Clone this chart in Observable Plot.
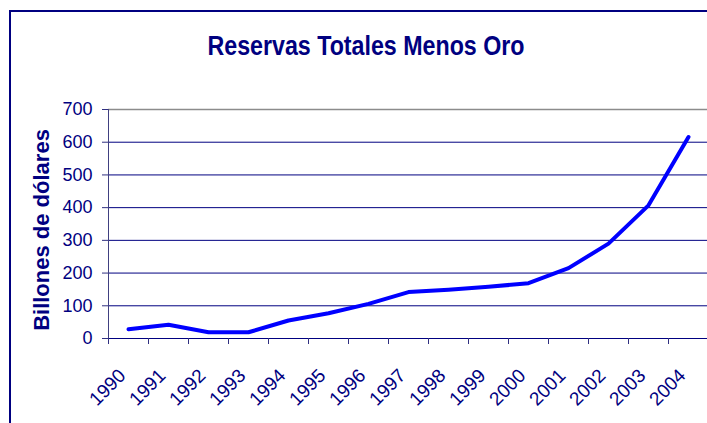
<!DOCTYPE html>
<html>
<head>
<meta charset="utf-8">
<script src="https://cdn.jsdelivr.net/npm/d3@7"></script>
<script src="https://cdn.jsdelivr.net/npm/@observablehq/plot@0.6"></script>
<style>
  html, body { margin: 0; padding: 0; width: 707px; height: 423px; overflow: hidden; background: #fff; }
  #frame { position: absolute; left: 9px; top: 10px; width: 800px; height: 500px; border: 2px solid #000080; box-sizing: border-box; }
  #title { position: absolute; left: 0; top: 33px; width: 732px; text-align: center; line-height: 27px;
           font-family: "Liberation Sans", Arial, sans-serif; font-weight: bold; font-size: 27px; color: #000080;
           transform: scaleX(0.86); transform-origin: 366px 0; white-space: nowrap; }
  #chart { position: absolute; left: 0; top: 0; }
  #chart svg { max-width: none !important; height: 423px !important; }
</style>
</head>
<body>
<div id="frame"></div>
<div id="title">Reservas Totales Menos Oro</div>
<div id="chart"></div>
<script>
const years = [1990, 1991, 1992, 1993, 1994, 1995, 1996, 1997, 1998, 1999, 2000, 2001, 2002, 2003, 2004];
const reserves = [28, 42, 19, 19, 55, 77, 106, 142, 149, 158, 169, 215, 290, 407, 616];
const yTicks = [0, 100, 200, 300, 400, 500, 600, 700];
const yLabel = "Billones de dólares";

const data = years.map((y, i) => ({year: y, value: reserves[i]}));
const bounds = years.map(y => y - 0.5).concat([years[years.length - 1] + 0.5]);
const navy = "#000080";
const yMax = yTicks[yTicks.length - 1];

const chart = Plot.plot({
  width: 720,
  height: 423,
  marginTop: 109,
  marginBottom: 85,
  marginLeft: 108,
  marginRight: 12,
  style: {fontFamily: "Liberation Sans, Arial, sans-serif", color: navy, background: "transparent", overflow: "visible"},
  x: {type: "linear", domain: [years[0] - 0.5, years[years.length - 1] + 0.5]},
  y: {type: "linear", domain: [0, yMax]},
  marks: [
    Plot.ruleY(yTicks.filter(t => t < yMax), {stroke: navy, strokeWidth: 1}),
    Plot.ruleY([yMax], {stroke: "#8c8c8c", strokeWidth: 1.5}),
    Plot.ruleX([bounds[0]], {stroke: "#404080", strokeWidth: 1}),
    Plot.axisX({ticks: bounds, tickSize: 6, stroke: "#303080", strokeOpacity: 1, tickFormat: () => "", label: null}),
    Plot.axisY({ticks: yTicks, tickSize: 6, tickPadding: 10, fontSize: 18, stroke: "#303080", fill: navy, label: null, tickFormat: d => String(d)}),
    Plot.axisX({ticks: years, tickSize: 0, tickRotate: -45, tickPadding: 34, dx: -6, fontSize: 19, fill: navy, label: null, tickFormat: d => String(d)}),
    Plot.text([yLabel], {frameAnchor: "left", textAnchor: "middle", rotate: -90, dx: -67, dy: 6, fontSize: 22, fontWeight: "bold", fill: navy}),
    Plot.line(data, {x: "year", y: "value", stroke: "#0000ff", strokeWidth: 4, strokeLinejoin: "round", strokeLinecap: "round"})
  ]
});
document.getElementById("chart").appendChild(chart);
</script>
</body>
</html>
